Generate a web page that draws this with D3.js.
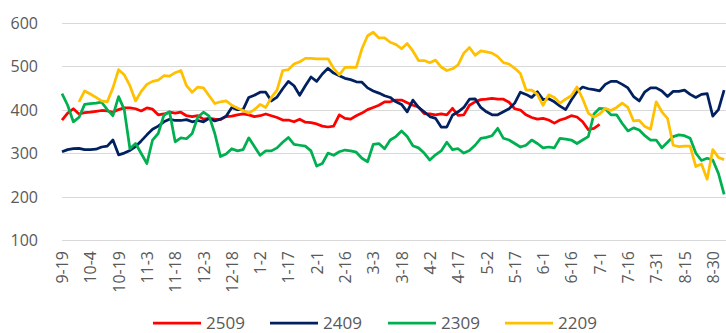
<!DOCTYPE html>
<html>
<head>
<meta charset="utf-8">
<script src="https://cdn.jsdelivr.net/npm/d3@7/dist/d3.min.js"></script>
<style>
  body { margin: 0; background: #fff; }
  text { font-family: "Open Sans", "Liberation Sans", sans-serif; fill: #595959; }
</style>
</head>
<body>
<svg id="chart" width="726" height="333"></svg>
<script>
// Axis labels: one every 15 days, starting 9-19
const tickLabels = ["9-19","10-4","10-19","11-3","11-18","12-3","12-18","1-2","1-17","2-1","2-16","3-3",
  "3-18","4-2","4-17","5-2","5-17","6-1","6-16","7-1","7-16","7-31","8-15","8-30"];
const tickStepDays = 15;
const spanDays = 352;
const yTicks = [100, 200, 300, 400, 500, 600];

// Sample dates, as day offsets from 9-19 (one sample every 3 days)
const sampleDays = d3.range(0, spanDays, 3);

const s2509 = [376,392,402,390,393,394,396,398,397,394,
  400,404,404,402,397,404,401,388,390,394,
  392,394,386,384,386,378,380,378,377,384,
  385,388,390,388,384,386,390,386,382,376,
  376,372,378,371,370,367,362,360,362,388,
  380,378,386,392,400,405,410,418,418,422,
  422,416,410,406,391,390,388,390,388,403,
  387,388,410,418,423,424,426,424,424,417,
  402,399,388,382,378,380,376,369,376,380,
  386,383,372,354,357,366];

const s2409 = [303,308,310,311,308,308,309,314,316,330,
  296,300,306,315,328,342,355,362,372,378,
  375,375,377,372,375,372,380,374,378,385,
  405,400,400,428,433,440,440,420,429,448,
  465,455,433,455,475,465,482,495,484,478,
  472,469,464,463,450,443,438,432,428,418,
  412,395,422,405,395,384,380,360,360,387,
  395,405,424,425,405,395,388,388,395,402,
  415,440,435,428,441,423,425,418,408,400,
  422,441,452,448,446,443,458,465,465,458,
  450,430,420,441,450,450,443,430,442,442,
  445,435,428,435,437,385,400,445];

const s2309 = [437,410,372,382,412,414,415,417,400,386,
  430,400,310,322,299,276,330,345,387,395,
  326,335,333,345,383,394,385,345,292,298,
  310,305,308,335,315,295,305,305,312,325,
  336,320,318,316,305,270,276,300,295,303,
  307,305,302,288,280,320,322,310,330,338,
  351,338,317,312,300,284,296,305,325,308,
  310,300,306,318,334,336,340,357,334,330,
  322,314,318,330,322,312,314,312,334,332,
  330,322,330,338,390,403,402,388,388,368,
  351,358,353,340,330,330,312,325,338,342,
  340,334,300,283,288,284,253,205];

const s2209 = [null,null,null,
  418,443,436,428,420,418,450,
  492,480,455,420,442,458,465,468,478,477,
  485,490,455,440,452,450,432,414,418,420,
  410,404,398,392,400,412,405,428,445,490,
  492,505,510,518,518,517,517,517,495,480,
  497,498,497,540,570,578,565,565,555,550,
  540,552,535,513,513,508,514,498,490,494,
  503,530,543,525,535,533,530,522,508,505,
  495,483,445,445,435,410,434,428,415,424,
  432,452,425,392,383,390,403,398,405,415,
  405,374,375,361,355,418,395,380,318,315,
  316,316,269,275,240,308,290,285];

const seriesNames = ["2509", "2409", "2309", "2209"];
const seriesValues = [s2509, s2409, s2309, s2209];
const seriesColors = ["#FF0000", "#002060", "#00B050", "#FFC000"];

const svg = d3.select("#chart");
const margin = { left: 62, right: 0, top: 22.7, bottom: 93 };
const W = 726, H = 333;

const x = d3.scaleLinear().domain([0, spanDays]).range([margin.left, W - margin.right]);
const y = d3.scaleLinear().domain([100, 600]).range([H - margin.bottom, margin.top]);

// Horizontal gridlines
svg.append("g")
  .selectAll("line")
  .data(yTicks)
  .join("line")
  .attr("x1", x(0)).attr("x2", W)
  .attr("y1", d => Math.round(y(d)) + 0.5)
  .attr("y2", d => Math.round(y(d)) + 0.5)
  .attr("stroke", "#D9D9D9")
  .attr("stroke-width", 1);

// Y axis labels
const yAxis = d3.axisLeft(y).tickValues(yTicks).tickSize(0).tickPadding(0);
const gy = svg.append("g").attr("transform", `translate(${38},0)`).call(yAxis);
gy.select(".domain").remove();
gy.selectAll("text").style("font-size", "16px").attr("fill", "#595959").attr("dy", "0.35em");

// X axis labels, rotated
const tickDays = tickLabels.map((_, i) => i * tickStepDays);
const xAxis = d3.axisBottom(x).tickValues(tickDays).tickFormat((d, i) => tickLabels[i]).tickSize(0);
const gx = svg.append("g").attr("transform", `translate(0,${251})`).call(xAxis);
gx.select(".domain").remove();
gx.selectAll("text")
  .style("font-size", "16px")
  .attr("fill", "#595959")
  .attr("transform", "rotate(-90)")
  .attr("text-anchor", "end")
  .attr("x", 0)
  .attr("y", 0)
  .attr("dy", "0.35em");

// Series lines
const line = d3.line()
  .defined(d => d[1] != null)
  .x(d => x(d[0]))
  .y(d => y(d[1]));

seriesValues.forEach((vals, i) => {
  const pts = sampleDays.map((day, j) => [day, j < vals.length ? vals[j] : null]);
  svg.append("path")
    .datum(pts)
    .attr("fill", "none")
    .attr("stroke", seriesColors[i])
    .attr("stroke-width", 2.75)
    .attr("stroke-linejoin", "round")
    .attr("d", line);
});

// Legend
const legendX = [153, 270, 388, 505];
const legendY = 323;
const lg = svg.append("g");
seriesNames.forEach((name, i) => {
  lg.append("line")
    .attr("x1", legendX[i]).attr("x2", legendX[i] + 48)
    .attr("y1", legendY).attr("y2", legendY)
    .attr("stroke", seriesColors[i]).attr("stroke-width", 2.75);
  lg.append("text")
    .attr("x", legendX[i] + 53).attr("y", legendY)
    .attr("dy", "0.35em")
    .style("font-size", "17px")
    .text(name);
});
</script>
</body>
</html>
